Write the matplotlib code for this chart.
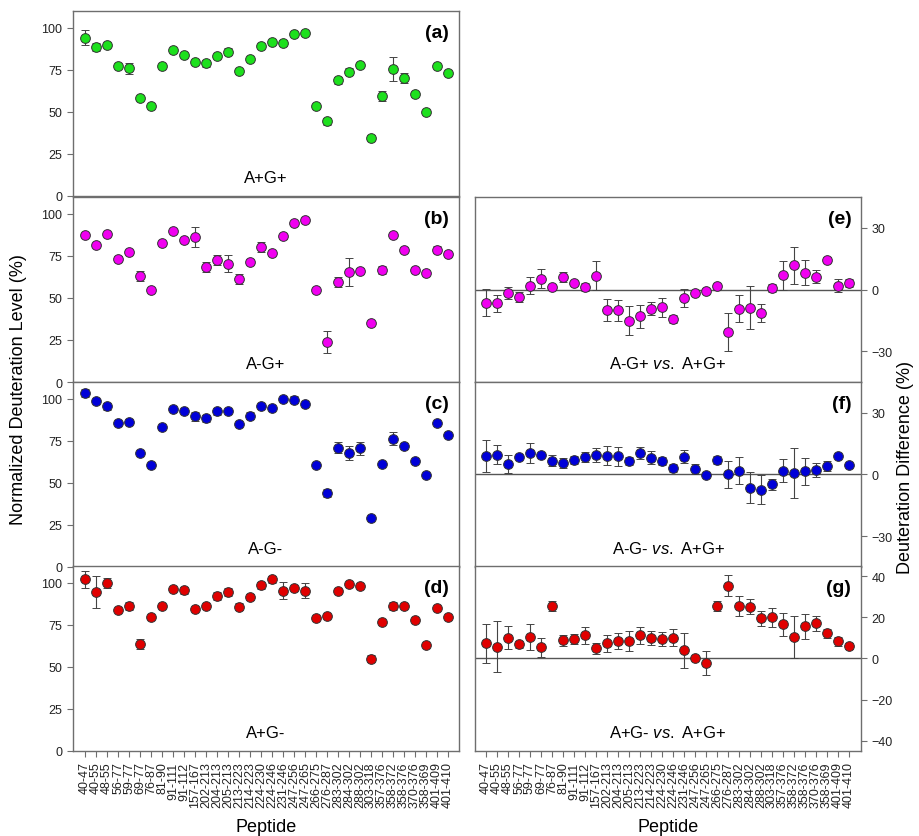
import numpy as np
import matplotlib
matplotlib.use("Agg")
import matplotlib.pyplot as plt

plt.rcParams['font.family'] = ['Liberation Sans', 'DejaVu Sans']
plt.rcParams['mathtext.fontset'] = 'custom'
plt.rcParams['mathtext.it'] = 'Liberation Sans:italic'
plt.rcParams['mathtext.rm'] = 'Liberation Sans'

peptides = ['40-47', '40-55', '48-55', '56-77', '59-77', '69-77', '76-87', '81-90',
            '91-111', '91-112', '157-167', '202-213', '204-213', '205-213', '213-223',
            '214-223', '224-230', '224-246', '231-246', '247-256', '247-265', '266-275',
            '276-287', '283-302', '284-302', '288-302', '303-318', '357-376', '358-372',
            '358-376', '370-376', '358-369', '401-409', '401-410']

# normalized deuteration level (%)
apgp = [94.0, 88.7, 90.0, 77.2, 75.8, 58.0, 53.6, 77.2, 86.5, 83.7, 79.4, 78.8, 83.1, 85.7,
        74.2, 81.3, 89.1, 91.3, 90.9, 96.2, 97.0, 53.6, 44.4, 68.8, 74.0, 77.8, 34.5, 59.5,
        75.4, 70.4, 60.5, 50.2, 77.0, 73.2]
apgp_err = [4.5, 2.5, 1.5, 0.5, 3.0, 1.0, 0.5, 0.5, 0.5, 1.0, 0.5, 2.0, 1.0, 2.0,
            1.5, 0.5, 0.5, 0.5, 2.0, 0.5, 0.5, 0.5, 2.0, 2.0, 2.0, 1.0, 1.5, 3.0,
            7.0, 3.0, 1.5, 0.5, 0.5, 0.5]

amgp = [87.7, 81.7, 88.1, 73.2, 77.4, 63.1, 54.8, 82.7, 89.7, 84.7, 86.3, 68.2, 72.8, 70.4,
        61.1, 71.6, 80.4, 76.6, 86.7, 94.4, 96.6, 54.8, 23.8, 59.5, 65.3, 66.3, 35.1, 66.5,
        87.7, 78.8, 66.9, 65.1, 78.6, 76.2]
amgp_err = [1.0, 0.5, 1.0, 1.5, 1.0, 3.0, 0.5, 1.0, 0.5, 0.5, 6.0, 3.0, 3.0, 5.0,
            3.0, 1.5, 3.0, 1.0, 1.5, 1.0, 0.5, 0.5, 6.7, 3.0, 8.3, 1.5, 0.5, 2.5,
            1.0, 1.5, 0.5, 0.5, 2.0, 1.0]

amgm = [103.4, 99.0, 95.6, 85.8, 86.4, 68.0, 60.6, 83.0, 94.2, 92.8, 89.6, 88.4, 92.6, 92.8,
        85.0, 90.0, 96.0, 94.6, 100.0, 99.4, 97.2, 60.6, 44.0, 71.0, 67.8, 70.6, 29.4, 61.4,
        76.4, 72.0, 63.0, 54.6, 85.8, 78.2]
amgm_err = [2.5, 1.0, 2.0, 0.5, 1.5, 0.5, 1.0, 1.0, 0.5, 0.5, 2.5, 2.0, 2.0, 0.5,
            0.5, 2.0, 0.5, 0.5, 0.5, 2.0, 0.5, 0.5, 2.5, 3.5, 4.0, 4.0, 0.5, 0.5,
            4.0, 2.0, 0.5, 0.5, 0.5, 0.5]

apgm = [102.0, 94.6, 100.0, 84.1, 86.3, 63.5, 79.4, 86.1, 96.2, 95.6, 84.3, 86.3, 92.1, 94.4,
        85.9, 91.5, 98.6, 102.0, 95.4, 96.8, 95.4, 79.2, 80.2, 95.2, 99.2, 98.0, 54.8, 76.4,
        86.3, 86.3, 78.0, 63.1, 85.3, 79.8]
apgm_err = [4.8, 9.4, 3.0, 0.5, 2.5, 3.0, 1.0, 1.0, 1.0, 2.0, 0.5, 0.5, 2.5, 2.5,
            2.0, 2.0, 2.0, 2.0, 5.0, 0.5, 4.5, 1.0, 1.0, 1.0, 0.5, 0.5, 2.0, 0.5,
            2.5, 0.5, 0.5, 0.5, 0.5, 0.5]

# deuteration difference (%)
diff_e = [-6.4, -6.8, -1.6, -3.7, 1.9, 5.3, 1.4, 6.0, 3.1, 1.1, 6.8, -10.0, -10.1, -15.1,
          -13.0, -9.3, -8.7, -14.5, -4.2, -1.6, -0.5, 1.6, -20.6, -9.3, -8.8, -11.4, 0.6, 6.9,
          11.9, 8.2, 6.3, 14.6, 1.9, 3.1]
diff_e_err = [6.5, 4.3, 3.0, 2.5, 4.0, 4.5, 1.0, 2.5, 1.0, 2.0, 7.0, 5.5, 5.0, 7.0,
              5.5, 3.0, 4.5, 2.0, 4.5, 1.0, 0.5, 1.0, 9.3, 6.5, 10.5, 4.2, 2.0, 7.2,
              9.0, 6.2, 3.3, 1.0, 3.2, 2.0]

diff_f = [9.0, 9.7, 5.1, 8.5, 10.5, 9.7, 6.8, 5.6, 7.2, 8.5, 9.5, 9.2, 8.8, 6.4,
          10.5, 8.2, 6.4, 3.1, 8.7, 2.6, -0.3, 7.1, 0.0, 1.8, -6.4, -7.4, -4.8, 1.8,
          0.8, 1.6, 2.3, 4.2, 8.8, 4.8]
diff_f_err = [8.0, 4.5, 4.5, 1.0, 5.0, 1.0, 2.5, 2.5, 2.0, 2.5, 3.5, 4.5, 4.5, 2.0,
              3.0, 3.0, 2.0, 2.0, 3.0, 2.5, 0.5, 2.0, 6.5, 6.5, 7.5, 7.0, 2.5, 5.5,
              12.0, 6.5, 3.5, 2.5, 0.5, 1.0]

diff_g = [7.3, 5.7, 10.1, 6.8, 10.3, 5.4, 25.6, 8.8, 9.3, 11.2, 4.9, 7.3, 8.5, 8.6,
          11.2, 9.9, 9.6, 10.1, 3.9, 0.3, -2.0, 25.6, 35.5, 25.6, 25.1, 19.5, 20.0, 16.6,
          10.6, 15.6, 17.1, 12.2, 8.3, 6.2]
diff_g_err = [9.4, 12.5, 5.5, 1.5, 6.3, 4.6, 2.5, 2.5, 2.5, 4.3, 2.5, 4.2, 4.0, 5.0,
              4.3, 3.5, 3.5, 4.0, 8.3, 1.0, 5.8, 2.5, 4.9, 4.7, 3.7, 3.7, 4.6, 5.5,
              10.2, 6.0, 3.8, 2.0, 2.0, 1.5]

x = np.arange(len(peptides))
frame_col = '#6e6e6e'

fig = plt.figure(figsize=(9.19, 8.37), dpi=100)

W = 0.420
H = 0.2210
left_x = 0.0794
right_x = 0.5169
bottoms = [0.7647, 0.5424, 0.3214, 0.1016]


def style_axes(ax):
    for s in ax.spines.values():
        s.set_color(frame_col)
        s.set_linewidth(1.0)
    ax.tick_params(colors=frame_col, labelcolor='#222222', labelsize=9, direction='out', length=4)


def draw_points(ax, y, yerr, color):
    ax.errorbar(x, y, yerr=yerr, fmt='o', color=color, markersize=7, markeredgecolor='#333333',
                markeredgewidth=0.7, ecolor='#444444', elinewidth=0.8, capsize=3, capthick=0.8,
                zorder=3)


left_sets = [(apgp, apgp_err, '#1de01d', '(a)', 'A+G+'),
             (amgp, amgp_err, '#f000f0', '(b)', 'A-G+'),
             (amgm, amgm_err, '#0000d8', '(c)', 'A-G-'),
             (apgm, apgm_err, '#e00000', '(d)', 'A+G-')]

for i, (vals, errs, col, letter, name) in enumerate(left_sets):
    ax = fig.add_axes([left_x, bottoms[i], W, H])
    style_axes(ax)
    draw_points(ax, vals, errs, col)
    ax.set_xlim(-1.1, 34.0)
    ax.set_ylim(0, 110)
    ax.set_yticks([0, 25, 50, 75, 100])
    ax.text(0.975, 0.93, letter, transform=ax.transAxes, ha='right', va='top',
            fontsize=14, fontweight='bold')
    ax.text(0.5, 0.06, name, transform=ax.transAxes, ha='center', va='bottom', fontsize=12)
    if i == 3:
        ax.set_xticks(x)
        ax.set_xticklabels(peptides, rotation=90, fontsize=9)
        ax.set_xlabel('Peptide', fontsize=13, labelpad=8)
    else:
        ax.set_xticks([])

right_sets = [(diff_e, diff_e_err, '#f000f0', '(e)', r'A-G+ $\mathit{vs.}$ A+G+', [-30, 0, 30]),
              (diff_f, diff_f_err, '#0000d8', '(f)', r'A-G- $\mathit{vs.}$ A+G+', [-30, 0, 30]),
              (diff_g, diff_g_err, '#e00000', '(g)', r'A+G- $\mathit{vs.}$ A+G+', [-40, -20, 0, 20, 40])]

for i, (vals, errs, col, letter, name, yt) in enumerate(right_sets):
    ax = fig.add_axes([right_x, bottoms[i + 1], W, H])
    style_axes(ax)
    ax.axhline(0, color='#555555', linewidth=1.0, zorder=1)
    draw_points(ax, vals, errs, col)
    ax.set_xlim(-1.0, 34.1)
    ax.set_ylim(-45, 45)
    ax.yaxis.tick_right()
    ax.set_yticks(yt)
    ax.text(0.975, 0.93, letter, transform=ax.transAxes, ha='right', va='top',
            fontsize=14, fontweight='bold')
    ax.text(0.5, 0.06, name, transform=ax.transAxes, ha='center', va='bottom', fontsize=12)
    if i == 2:
        ax.set_xticks(x)
        ax.set_xticklabels(peptides, rotation=90, fontsize=9)
        ax.set_xlabel('Peptide', fontsize=13, labelpad=8)
    else:
        ax.set_xticks([])

fig.text(0.02, 1 - 390 / 837, 'Normalized Deuteration Level (%)', rotation=90,
         ha='center', va='center', fontsize=13)
fig.text(0.985, 1 - 468 / 837, 'Deuteration Difference (%)', rotation=90,
         ha='center', va='center', fontsize=13)

fig.savefig('out.png', dpi=100)
